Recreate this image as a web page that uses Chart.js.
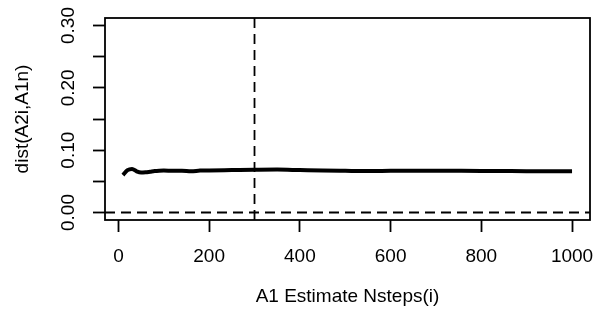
<!DOCTYPE html>
<html>
<head>
<meta charset="utf-8">
<script src="https://cdn.jsdelivr.net/npm/chart.js@4/dist/chart.umd.min.js"></script>
<style>
  html, body { margin: 0; padding: 0; background: #ffffff; }
  #wrap { width: 602px; height: 320px; }
</style>
</head>
<body>
<div id="wrap"><canvas id="c" width="602" height="320"></canvas></div>
<script>
// Number of steps used for the A1 estimate
const steps = [10, 20, 30, 40, 50, 60, 70, 80, 90, 100, 120, 140, 160, 180, 200,
               250, 300, 350, 400, 450, 500, 550, 600, 650, 700, 750, 800, 850, 900, 950, 1000];
// Distance between A2(i) and A1(n) at each step count
const distValues = [0.060, 0.068, 0.070, 0.066, 0.064, 0.0645, 0.0655, 0.0665, 0.067, 0.0672,
                    0.0668, 0.067, 0.066, 0.0672, 0.0675, 0.068, 0.0685, 0.0688, 0.068, 0.0672,
                    0.0668, 0.0665, 0.0668, 0.067, 0.0668, 0.0668, 0.0667, 0.0665, 0.0663, 0.0663, 0.0663];
// Axis ticks and labels
const xTicks = [0, 200, 400, 600, 800, 1000];
const xTickLabels = ['0', '200', '400', '600', '800', '1000'];
const yTicks = [0, 0.05, 0.10, 0.15, 0.20, 0.25, 0.30];
const yTickLabels = ['0.00', '', '0.10', '', '0.20', '', '0.30'];
// Reference lines
const burnIn = 300;
const baseline = 0;
const xTitle = 'A1 Estimate Nsteps(i)';
const yTitle = 'dist(A2i,A1n)';

const FONT = '19px "Liberation Sans", Arial, sans-serif';

const framePlugin = {
  id: 'frame',
  beforeDatasetsDraw(chart) {
    const { ctx, chartArea: a, scales: { x, y } } = chart;
    ctx.save();
    ctx.strokeStyle = '#000';
    ctx.lineWidth = 1.8;
    ctx.setLineDash([10, 6]);
    const yb = y.getPixelForValue(baseline);
    ctx.beginPath();
    ctx.moveTo(a.left, yb);
    ctx.lineTo(a.right, yb);
    ctx.stroke();
    const xv = x.getPixelForValue(burnIn);
    ctx.beginPath();
    ctx.moveTo(xv, a.top);
    ctx.lineTo(xv, a.bottom);
    ctx.stroke();
    ctx.restore();
  },
  afterDraw(chart) {
    const { ctx, chartArea: a, scales: { x, y } } = chart;
    ctx.save();
    ctx.strokeStyle = '#000';
    ctx.lineWidth = 1.8;
    ctx.setLineDash([]);
    ctx.strokeRect(a.left, a.top, a.right - a.left, a.bottom - a.top);

    ctx.fillStyle = '#000';
    ctx.font = FONT;
    ctx.textAlign = 'center';
    ctx.textBaseline = 'middle';
    xTicks.forEach((v, i) => {
      ctx.fillText(xTickLabels[i], x.getPixelForValue(v), 257);
    });
    ctx.fillText(xTitle, (a.left + a.right) / 2, 297);

    yTicks.forEach((v, i) => {
      if (!yTickLabels[i]) return;
      ctx.save();
      ctx.translate(69, y.getPixelForValue(v));
      ctx.rotate(-Math.PI / 2);
      ctx.fillText(yTickLabels[i], 0, 0);
      ctx.restore();
    });
    ctx.save();
    ctx.translate(23, (a.top + a.bottom) / 2);
    ctx.rotate(-Math.PI / 2);
    ctx.fillText(yTitle, 0, 0);
    ctx.restore();
    ctx.restore();
  }
};

new Chart(document.getElementById('c'), {
  type: 'line',
  data: {
    datasets: [{
      data: steps.map((s, i) => ({ x: s, y: distValues[i] })),
      borderColor: '#000',
      borderWidth: 4,
      pointRadius: 0,
      fill: false,
      cubicInterpolationMode: 'monotone'
    }]
  },
  options: {
    responsive: false,
    devicePixelRatio: 1,
    animation: false,
    layout: { padding: { top: 18, right: 12, left: 0, bottom: 0 } },
    plugins: { legend: { display: false }, tooltip: { enabled: false } },
    scales: {
      x: {
        type: 'linear',
        min: -29.6,
        max: 1039.6,
        afterBuildTicks: s => { s.ticks = xTicks.map(v => ({ value: v })); },
        afterFit: s => { s.height = 100; },
        ticks: { display: false },
        border: { display: false },
        grid: { drawOnChartArea: false, drawTicks: true, tickLength: 12, tickColor: '#000', tickWidth: 1.8 }
      },
      y: {
        type: 'linear',
        min: -0.012,
        max: 0.312,
        afterBuildTicks: s => { s.ticks = yTicks.map(v => ({ value: v })); },
        afterFit: s => { s.width = 105; },
        ticks: { display: false },
        border: { display: false },
        grid: { drawOnChartArea: false, drawTicks: true, tickLength: 12, tickColor: '#000', tickWidth: 1.8 }
      }
    }
  },
  plugins: [framePlugin]
});
</script>
</body>
</html>
